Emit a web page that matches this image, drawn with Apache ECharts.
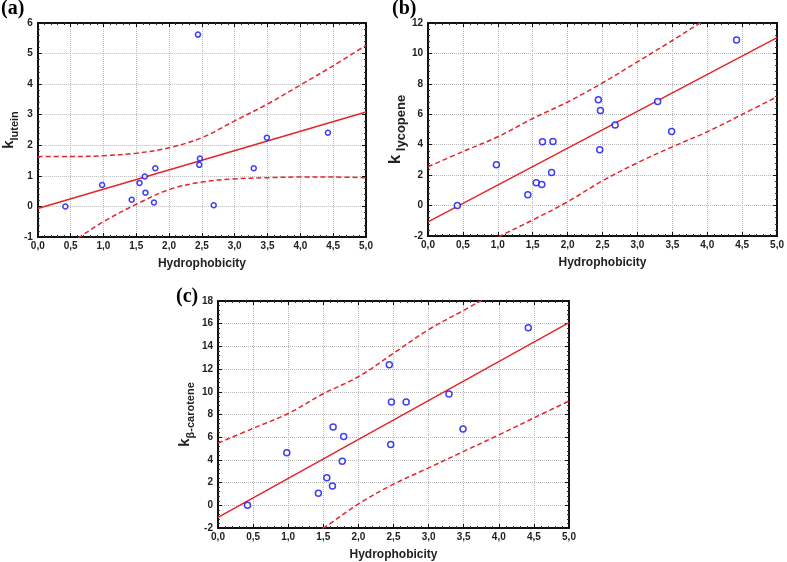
<!DOCTYPE html>
<html><head><meta charset="utf-8">
<script src="https://cdn.jsdelivr.net/npm/echarts@6/dist/echarts.min.js"></script>
<style>html,body{margin:0;padding:0;background:#fff}#c{width:787px;height:562px}</style>
</head><body><div id="c"></div><script>
// ---- data ----
const hydrophobicity = [0.42, 0.98, 1.43, 1.55, 1.63, 1.64, 1.77, 1.79, 2.44, 2.46, 2.47, 2.68, 3.29, 3.49, 4.42];
const kLutein   = [0.00, 0.70, 0.22, 0.77, 0.98, 0.45, 0.13, 1.25, 5.62, 1.36, 1.57, 0.04, 1.25, 2.25, 2.41];
const kLycopene = [0.00, 2.68, 0.71, 1.50, 1.39, 4.19, 2.18, 4.21, 6.95, 3.67, 6.25, 5.29, 6.84, 4.87, 10.89];
const kCarotene = [0.00, 4.64, 1.07, 2.43, 1.71, 6.90, 3.88, 6.06, 12.38, 5.36, 9.10, 9.10, 9.80, 6.72, 15.65];

const fitX = [0, 5];
const fitLutein   = [-0.07, 3.09];
const fitLycopene = [-1.07, 11.04];
const fitCarotene = [-1.07, 16.10];

const bandX = [0, 0.5, 1.0, 1.5, 2.0, 2.5, 3.0, 3.5, 4.0, 4.5, 5.0];
const luteinUpper   = [1.63, 1.63, 1.66, 1.74, 1.92, 2.25, 2.80, 3.35, 3.97, 4.60, 5.27];
const luteinLower   = [-1.90, -1.20, -0.50, 0.07, 0.55, 0.80, 0.90, 0.94, 0.96, 0.96, 0.94];
const lycopeneUpper = [2.55, 3.55, 4.52, 5.72, 6.81, 8.06, 9.45, 10.85, 12.30, 13.70, 15.10];
const lycopeneLower = [-4.60, -3.30, -2.08, -0.95, 0.25, 1.63, 2.81, 3.86, 4.85, 5.99, 7.15];
const caroteneUpper = [5.48, 6.78, 8.09, 9.83, 11.33, 13.40, 15.48, 17.18, 18.90, 20.60, 22.30];
const caroteneLower = [-7.20, -5.60, -3.95, -2.02, 0.12, 1.86, 3.30, 4.75, 6.20, 7.70, 9.19];

const xLabelName = 'Hydrophobicity';
const panelLetters = ['(a)', '(b)', '(c)'];

// ---- chart ----
const RED = '#e3262b', BLUE = '#1010f0';
const pair = (xs, ys) => xs.map((x, i) => [x, ys[i]]);

const panels = [
  {grid: {left: 29, top: 23, width: 337, height: 214}, y: [-1, 6, 1], ys: kLutein, fit: fitLutein, up: luteinUpper, lo: luteinLower,
   yname: '{k|k}{s|lutein}', ngap: 17, kf: 15, sf: 11, sym: 5},
  {grid: {left: 428, top: 23, width: 354, height: 213}, y: [-2, 12, 2], ys: kLycopene, fit: fitLycopene, up: lycopeneUpper, lo: lycopeneLower,
   yname: '{k|k}{s| lycopene}', ngap: 14, kf: 17, sf: 13, sym: 6},
  {grid: {left: 218, top: 301, width: 351, height: 230}, y: [-2, 18, 2], ys: kCarotene, fit: fitCarotene, up: caroteneUpper, lo: caroteneLower,
   yname: '{k|k}{s|β-carotene}', ngap: 22, kf: 15, sf: 11, sym: 6}
];

const grid = [], xAxis = [], yAxis = [], series = [];
const labelFont = {fontFamily: 'Liberation Sans', fontWeight: 'bold', fontSize: 10, color: '#222'};
panels.forEach((p, i) => {
  grid.push(Object.assign({containLabel: false}, p.grid));
  const common = {
    gridIndex: i, axisLine: {show: true, onZero: false, lineStyle: {color: '#111', width: 2}},
    axisTick: {show: true, inside: true, length: 4, lineStyle: {color: '#111'}},
    minorTick: {show: true, splitNumber: 5, length: 2, lineStyle: {color: '#333'}},
  };
  xAxis.push(Object.assign({}, common, {
    type: 'value', position: 'bottom', min: 0, max: 5, interval: 0.5,
    axisLabel: Object.assign({margin: 4, formatter: v => v.toFixed(1).replace('.', ',')}, labelFont),
    splitLine: {show: true, lineStyle: {color: '#b8b8b8', type: 'dotted', width: 1}},
    name: xLabelName, nameLocation: 'middle', nameGap: 21,
    nameTextStyle: {fontFamily: 'Liberation Sans', fontWeight: 'bold', fontSize: 12, color: '#222'}
  }));
  xAxis.push(Object.assign({}, common, {
    type: 'value', position: 'top', min: 0, max: 5, interval: 0.5,
    axisLabel: {show: false}, splitLine: {show: false}
  }));
  yAxis.push(Object.assign({}, common, {
    type: 'value', position: 'left', min: p.y[0], max: p.y[1], interval: p.y[2],
    axisLabel: Object.assign({margin: 5}, labelFont),
    splitLine: {show: true, lineStyle: {color: '#b8b8b8', type: 'dotted', width: 1}},
    name: p.yname, nameLocation: 'middle', nameGap: p.ngap, nameRotate: 90,
    nameTextStyle: {
      color: '#222',
      rich: {
        k: {fontFamily: 'Liberation Sans', fontWeight: 'bold', fontSize: p.kf, color: '#222', verticalAlign: 'bottom', padding: [0, 0, 4, 0]},
        s: {fontFamily: 'Liberation Sans', fontWeight: 'bold', fontSize: p.sf, color: '#222', verticalAlign: 'bottom'}
      }
    }
  }));
  yAxis.push(Object.assign({}, common, {
    type: 'value', position: 'right', min: p.y[0], max: p.y[1], interval: p.y[2],
    axisLabel: {show: false}, splitLine: {show: false}
  }));
  const xi = 2 * i, yi = 2 * i;
  series.push({
    type: 'line', xAxisIndex: xi, yAxisIndex: yi, data: pair(fitX, p.fit), showSymbol: false, clip: true,
    lineStyle: {color: RED, width: 1.5}, silent: true, z: 3
  });
  [p.up, p.lo].forEach(b => series.push({
    type: 'line', xAxisIndex: xi, yAxisIndex: yi, data: pair(bandX, b), showSymbol: false, clip: true, smooth: 0.35,
    lineStyle: {color: RED, width: 1.5, type: [5, 3]}, silent: true, z: 3
  }));
  series.push({
    type: 'scatter', xAxisIndex: xi, yAxisIndex: yi, data: pair(hydrophobicity, p.ys),
    symbol: 'circle', symbolSize: p.sym, itemStyle: {color: '#fff', borderColor: BLUE, borderWidth: 1.5}, z: 5
  });
});

const chart = echarts.init(document.getElementById('c'), null, {renderer: 'canvas'});
chart.setOption({
  animation: false,
  backgroundColor: '#fff',
  grid, xAxis, yAxis, series,
  graphic: [
    {type: 'text', left: 1, top: -1, style: {text: panelLetters[0], font: 'bold 20px "Liberation Serif"', fill: '#000'}},
    {type: 'text', left: 392, top: -1, style: {text: panelLetters[1], font: 'bold 20px "Liberation Serif"', fill: '#000'}},
    {type: 'text', left: 176, top: 287, style: {text: panelLetters[2], font: 'bold 20px "Liberation Serif"', fill: '#000'}}
  ]
});
</script></body></html>
